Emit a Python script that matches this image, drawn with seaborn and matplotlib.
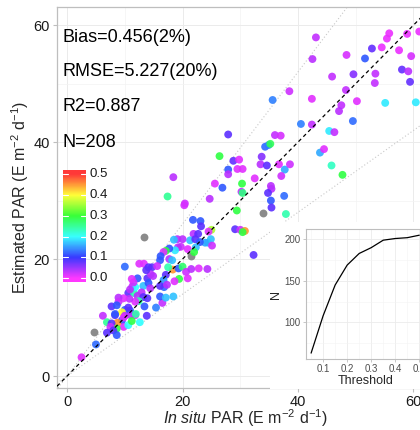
import numpy as np
import pandas as pd
import matplotlib
matplotlib.use("Agg")
import matplotlib.pyplot as plt
import seaborn as sns
import colorsys
from matplotlib.colors import ListedColormap, Normalize
from matplotlib.patches import Rectangle

# ---------------- data ----------------
insitu = [43.1, 42.5, 48.4, 52.8, 51.6, 54.5, 55.4, 55.8, 58.9, 61.0, 57.5, 59.6, 45.9, 49.6, 53.4, 53.3,
          58.0, 59.1, 59.4, 48.3, 42.4, 50.2, 47.5, 47.1, 55.1, 60.4, 49.5, 40.5, 42.4, 45.4, 46.3, 35.6,
          38.5, 43.8, 44.5, 45.8, 47.7, 27.9, 36.0, 37.0, 34.3, 34.9, 35.2, 26.4, 28.8, 29.8, 33.7, 27.9,
          27.9, 29.5, 30.4, 33.5, 34.6, 36.7, 37.7, 38.6, 37.1, 32.5, 25.6, 26.9, 30.3, 30.2, 30.4, 24.7,
          35.3, 35.4, 34.8, 37.6, 35.3, 35.4, 33.9, 37.9, 29.4, 20.4, 20.3, 18.4, 17.4, 21.8, 23.1, 23.2,
          25.0, 24.5, 29.1, 30.0, 30.8, 30.4, 21.9, 22.7, 21.3, 22.2, 20.0, 19.1, 18.5, 24.9, 24.4, 23.9,
          23.0, 25.1, 20.9, 19.7, 22.3, 22.0, 21.4, 32.3, 13.3, 19.2, 18.7, 17.7, 17.1, 16.7, 16.2, 16.1,
          17.7, 18.2, 12.5, 13.3, 10.0, 14.7, 14.1, 15.6, 18.3, 17.5, 19.3, 20.0, 20.6, 21.5, 22.8, 24.3,
          20.9, 19.4, 18.6, 17.1, 16.8, 16.7, 18.4, 16.5, 15.4, 13.4, 12.2, 13.2, 11.3, 10.6, 11.6, 13.9,
          14.5, 14.9, 13.7, 14.1, 16.1, 17.3, 14.4, 11.8, 11.5, 10.9, 12.9, 12.2, 13.2, 12.4, 11.8, 10.8,
          9.8, 8.9, 8.9, 13.9, 16.1, 17.1, 7.7, 8.6, 10.0, 10.9, 10.6, 13.8, 9.5, 8.3, 6.2, 10.0,
          11.8, 11.0, 11.9, 9.5, 9.8, 10.6, 11.2, 12.6, 8.7, 6.9, 7.7, 8.6, 7.5, 8.0, 6.9, 4.6,
          5.0, 2.5, 8.6, 9.8, 8.3, 11.2]
estimated = [57.9, 54.2, 54.9, 56.0, 54.3, 56.2, 57.7, 58.6, 58.5, 58.9, 55.7, 54.7, 51.2, 51.6, 51.7, 50.1,
             52.4, 52.1, 50.3, 48.9, 47.4, 47.0, 46.3, 45.3, 46.7, 46.8, 43.6, 43.1, 43.0, 41.9, 41.7, 47.2,
             48.7, 38.2, 38.8, 36.0, 34.4, 41.3, 41.2, 41.1, 39.2, 39.5, 39.7, 37.6, 36.8, 37.0, 37.5, 35.3,
             34.5, 35.4, 35.4, 36.2, 36.0, 36.2, 35.3, 36.2, 34.2, 33.8, 32.9, 32.2, 32.9, 31.5, 31.3, 30.3,
             32.5, 32.0, 31.3, 30.8, 30.0, 28.8, 27.8, 27.7, 28.3, 29.5, 29.2, 34.0, 30.7, 26.7, 26.5, 25.6,
             25.0, 24.7, 25.1, 25.0, 24.8, 24.6, 24.3, 24.3, 23.2, 23.4, 23.4, 23.4, 23.3, 23.4, 22.8, 22.8,
             22.9, 22.3, 21.7, 22.1, 22.0, 21.2, 20.6, 20.7, 23.7, 22.0, 21.5, 21.8, 21.4, 21.2, 20.5, 19.8,
             20.0, 19.8, 19.2, 19.2, 18.7, 18.6, 18.6, 18.8, 18.2, 18.6, 18.4, 18.7, 17.8, 18.3, 18.4, 18.3,
             16.7, 16.6, 16.2, 17.3, 15.2, 16.4, 13.6, 12.5, 11.7, 11.9, 16.7, 15.4, 15.3, 14.2, 14.2, 16.7,
             17.4, 17.1, 18.1, 15.9, 15.4, 15.6, 15.0, 15.2, 16.0, 14.8, 14.3, 13.7, 13.5, 12.8, 12.7, 13.2,
             13.3, 13.4, 12.7, 13.3, 13.6, 13.4, 11.9, 12.1, 11.3, 11.2, 11.7, 10.3, 10.9, 10.4, 10.3, 10.3,
             10.4, 10.4, 10.6, 9.5, 8.4, 8.7, 9.4, 9.2, 9.1, 9.2, 9.0, 8.1, 8.4, 7.8, 7.4, 7.6,
             5.4, 3.2, 7.0, 10.0, 10.6, 16.6]
nan = np.nan
threshold = [0.03, 0.035, 0.02, 0.075, 0.12, 0.01, 0.01, 0.01, 0.01, 0.01, 0.01, 0.02, 0.03, 0.06, 0.03, 0.03,
             0.075, 0.035, 0.075, 0.03, 0.015, 0.015, 0.03, 0.035, 0.19, 0.19, 0.13, 0.14, 0.03, 0.19, 0.03, 0.14,
             0.025, 0.16, 0.015, 0.23, 0.29, 0.08, 0.03, 0.02, 0.13, 0.14, 0.28, 0.29, 0.075, 0.015, 0.06, 0.12,
             0.035, 0.015, 0.015, 0.035, 0.08, 0.015, 0.16, 0.025, 0.025, 0.015, 0.015, 0.12, 0.29, 0.03, 0.26, 0.035,
             0.035, 0.035, 0.08, 0.13, 0.12, 0.08, nan, 0.24, 0.29, 0.025, 0.02, 0.035, 0.25, 0.12, 0.12, 0.08,
             0.36, 0.015, 0.08, 0.025, 0.45, 0.29, 0.035, 0.08, 0.17, 0.08, 0.035, 0.035, 0.17, 0.17, 0.17, 0.16,
             0.12, 0.025, 0.015, 0.025, 0.17, 0.29, nan, 0.08, nan, 0.035, 0.19, 0.12, 0.29, 0.015, 0.12, 0.12,
             0.035, 0.17, 0.015, 0.015, 0.13, 0.08, 0.08, 0.025, 0.45, 0.24, 0.12, 0.27, 0.025, 0.035, 0.015, 0.035,
             0.015, 0.29, 0.015, 0.08, 0.13, 0.15, 0.17, 0.03, 0.14, 0.12, 0.12, 0.17, 0.025, 0.08, 0.24, 0.08,
             0.035, 0.035, 0.08, 0.12, 0.08, 0.035, 0.035, 0.2, 0.025, 0.035, 0.035, 0.035, 0.08, 0.24, 0.015, 0.03,
             0.015, 0.035, 0.025, 0.08, 0.12, 0.17, 0.08, 0.12, 0.12, 0.12, 0.08, 0.08, 0.4, 0.08, 0.03, 0.035,
             0.015, 0.035, 0.24, 0.12, 0.015, 0.2, 0.29, 0.2, 0.45, 0.25, 0.08, 0.29, 0.025, 0.08, 0.08, nan,
             0.13, 0.015, 0.12, 0.015, 0.12, 0.015]

inset_threshold = [0.05, 0.10, 0.15, 0.20, 0.25, 0.30, 0.35, 0.40, 0.45, 0.50]
inset_n = [63, 108, 145, 169, 183, 190, 199, 201, 202, 205]

stats_labels = ["Bias=0.456(2%)", "RMSE=5.227(20%)", "R2=0.887", "N=208"]
main_ticks = [0, 20, 40, 60]
cbar_ticks = [0.0, 0.1, 0.2, 0.3, 0.4, 0.5]
ref_slopes = [0.7, 1.0, 1.3]

df = pd.DataFrame({"insitu": insitu, "estimated": estimated, "threshold": threshold})

# ---------------- style ----------------
sns.set_style("white")
plt.rcParams["font.family"] = ["Liberation Sans", "DejaVu Sans"]
plt.rcParams["mathtext.fontset"] = "custom"
plt.rcParams["mathtext.rm"] = "Liberation Sans"
plt.rcParams["mathtext.it"] = "Liberation Sans:italic"
plt.rcParams["mathtext.default"] = "regular"

hues = np.linspace(5 / 6, 0, 256)
cols = np.array([colorsys.hsv_to_rgb(h, 0.82, 1) for h in hues])
cmap = ListedColormap(cols)
norm = Normalize(0, 0.5)

border = "#BEBEBE"
grid_major = "#EBEBEB"
grid_minor = "#F3F3F3"

fig = plt.figure(figsize=(4.2, 4.3), dpi=100)
W, H = 420, 430


def fig_rect(x0, y0, x1, y1):
    return [x0 / W, 1 - y1 / H, (x1 - x0) / W, (y1 - y0) / H]


ax = fig.add_axes(fig_rect(57, 7, 433.7, 388))
ax.set_zorder(1)

ax.set_xlim(-1.75, 63.5)
ax.set_ylim(-2.05, 63.1)

# reference lines
for s in ref_slopes:
    if s == 1.0:
        ax.axline((0, 0), slope=s, color="black", lw=0.9, dashes=(3, 2.5), zorder=3)
    else:
        ax.axline((0, 0), slope=s, color="#C8C8C8", lw=0.8, ls=(0, (1, 2)), zorder=1.5)

valid = df[df["threshold"].notna()]
missing = df[df["threshold"].isna()]
sns.scatterplot(data=missing, x="insitu", y="estimated", color="#7F7F7F", s=32,
                linewidth=0, alpha=0.9, ax=ax, zorder=2)
sns.scatterplot(data=valid, x="insitu", y="estimated", hue="threshold", palette=cmap,
                hue_norm=norm, s=32, linewidth=0, alpha=0.9, legend=False, ax=ax, zorder=2)

ax.set_xticks(main_ticks)
ax.set_yticks(main_ticks)
ax.set_xticks([10, 30, 50], minor=True)
ax.set_yticks([10, 30, 50], minor=True)
ax.grid(True, which="major", color=grid_major, lw=0.7, zorder=0)
ax.grid(True, which="minor", color=grid_minor, lw=0.5, zorder=0)
ax.set_axisbelow(True)
ax.tick_params(which="major", direction="out", length=3, width=0.8, color=border,
               labelsize=10.5, labelcolor="#1A1A1A", pad=2, bottom=True, left=True)
ax.tick_params(which="minor", length=0)
for sp in ax.spines.values():
    sp.set_color(border)
    sp.set_linewidth(0.9)

ax.set_xlabel(r"$\it{In\ situ}$ PAR (E m$^{-2}$ d$^{-1}$)", fontsize=11.5, labelpad=-1)
ax.set_ylabel(r"Estimated PAR (E m$^{-2}$ d$^{-1}$)", fontsize=11.5, labelpad=2)

# stats text
ys = [0.9205, 0.832, 0.738, 0.645]
for lab, yy in zip(stats_labels, ys):
    ax.text(0.0135, yy, lab, transform=ax.transAxes, ha="left", va="center",
            fontsize=13, color="black")

# colorbar
cax = fig.add_axes(fig_rect(63.3, 170, 86, 281.7))
cax.set_zorder(4)
lo, hi = -0.0163, 0.519
grad = np.linspace(lo, hi, 300)[:, None]
cax.imshow(grad, extent=[0, 1, lo, hi], origin="lower", aspect="auto", cmap=cmap,
           norm=norm, alpha=0.95)
cax.set_xlim(0, 1)
cax.set_ylim(lo, hi)
cax.set_xticks([])
cax.set_yticks([])
for sp in cax.spines.values():
    sp.set_visible(False)
for v in cbar_ticks:
    cax.plot([0, 0.2], [v, v], color="white", lw=0.8)
    cax.plot([0.8, 1], [v, v], color="white", lw=0.8)
    cax.text(1.14, v, f"{v:.1f}", transform=cax.get_yaxis_transform(), ha="left",
             va="center", fontsize=9.5, color="#1A1A1A")

# white background of the inset plot
fig.add_artist(Rectangle((270 / W, 1 - 388.5 / H), 200 / W, (388.5 - 222) / H,
                         transform=fig.transFigure, facecolor="white", edgecolor="none",
                         zorder=2))

# inset
iax = fig.add_axes(fig_rect(305.7, 229.3, 424.7, 359))
iax.set_zorder(5)
sns.lineplot(x=inset_threshold, y=inset_n, ax=iax, color="black", lw=0.9)
iax.set_xlim(0.0275, 0.5225)
iax.set_ylim(55.9, 212.1)
iax.set_xticks([0.1, 0.2, 0.3, 0.4, 0.5])
iax.set_xticklabels(["0.1", "0.2", "0.3", "0.4", "0.5"])
iax.set_yticks([100, 150, 200])
iax.set_xticks([0.05, 0.15, 0.25, 0.35, 0.45], minor=True)
iax.set_yticks([75, 125, 175], minor=True)
iax.grid(True, which="major", color=grid_major, lw=0.6)
iax.grid(True, which="minor", color=grid_minor, lw=0.4)
iax.set_axisbelow(True)
iax.tick_params(which="major", direction="out", length=2, width=0.6, color=border,
                labelsize=7, labelcolor="#4D4D4D", pad=1.5, bottom=True, left=True)
iax.tick_params(which="minor", length=0)
for sp in iax.spines.values():
    sp.set_color(border)
    sp.set_linewidth(0.8)
iax.set_xlabel("Threshold", fontsize=9, labelpad=0.5)
iax.set_ylabel("N", fontsize=9, labelpad=2)

fig.savefig("out.png", dpi=100)
